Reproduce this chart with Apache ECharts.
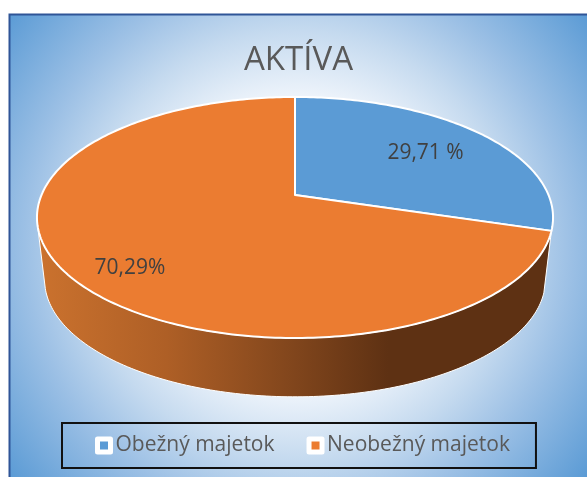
<!DOCTYPE html>
<html>
<head>
<meta charset="utf-8">
<style>
  html, body { margin: 0; padding: 0; background: #fff; }
  #main { width: 587px; height: 477px; }
</style>
<script src="https://cdn.jsdelivr.net/npm/echarts@6/dist/echarts.min.js"></script>
</head>
<body>
<div id="main"></div>
<script>
var categories = ["Obežný majetok", "Neobežný majetok"];
var values = [29.71, 70.29];
var labelTexts = ["29,71 %", "70,29%"];
var colors = ["#5B9BD5", "#EB7C31"];

// pie seen in perspective
var cx = 295;
var top3d = { y: 195, d: 253.5, a: 116.3 };
var bottom3d = { y: 258, d: 246, a: 112.9 };
var persp = -0.1867;
var leftEdge = 255;
var labelRadius = [0.69, 0.8];
var labelShift = [0, -6.5];

var font = '"Open Sans", sans-serif';

function project(plane, deg, k) {
  var t = (deg * Math.PI) / 180;
  var u = Math.sin(t) * k;
  var v = -Math.cos(t) * k;
  var w = 1 + persp * v;
  return [cx + (plane.d * u) / w, plane.y + (plane.a * v) / w];
}

function arc(plane, from, to) {
  var pts = [];
  var n = Math.ceil(Math.abs(to - from));
  for (var i = 0; i <= n; i++) {
    pts.push(project(plane, from + ((to - from) * i) / n, 1));
  }
  return pts;
}

function sliceAngles(index) {
  var total = values[0] + values[1];
  var start = 0;
  for (var i = 0; i < index; i++) start += (values[i] / total) * 360;
  return [start, start + (values[index] / total) * 360];
}

function renderSlice(params) {
  var i = params.seriesIndex;
  var a = sliceAngles(i);
  var children = [];
  if (i === 1) {
    // side wall, only the front part is visible
    var wall = arc(top3d, a[0], leftEdge).concat(arc(bottom3d, leftEdge, a[0]));
    children.push({
      type: "polygon",
      shape: { points: wall },
      style: {
        fill: new echarts.graphic.LinearGradient(38, 0, 553, 0, [
          { offset: 0, color: "#CB722E" },
          { offset: 0.25, color: "#AE5F26" },
          { offset: 0.5, color: "#80451C" },
          { offset: 0.68, color: "#5E3113" },
          { offset: 1, color: "#5E3113" },
        ], true),
        stroke: "#fff",
        lineWidth: 1,
      },
    });
  }
  var pts = [project(top3d, 0, 0)].concat(arc(top3d, a[0], a[1]));
  children.push({
    type: "polygon",
    shape: { points: pts },
    style: { fill: colors[i], stroke: "#fff", lineWidth: 2, lineJoin: "round" },
  });
  var p = project(top3d, (a[0] + a[1]) / 2 + labelShift[i], labelRadius[i]);
  children.push({
    type: "text",
    z2: 10,
    style: {
      x: p[0],
      y: p[1] + 2,
      text: labelTexts[i],
      font: "21px " + font,
      fill: "#404040",
      align: "center",
      verticalAlign: "middle",
    },
  });
  return { type: "group", children: children };
}

var myChart = echarts.init(document.getElementById("main"));
var option = {
  animation: false,
  title: {
    text: "AKTÍVA",
    left: 244,
    top: 44,
    padding: 0,
    textStyle: { color: "#595959", fontFamily: font, fontSize: 33, fontWeight: "normal" },
  },
  legend: {
    data: categories,
    left: 62,
    top: 423,
    padding: [12, 26, 12, 33],
    itemGap: 32,
    itemWidth: 13,
    itemHeight: 13,
    icon: "rect",
    borderColor: "#111",
    borderWidth: 2,
    itemStyle: { borderColor: "#fff", borderWidth: 5, borderJoin: "round" },
    textStyle: { color: "#595959", fontFamily: font, fontSize: 21, padding: 0 },
  },
  graphic: [
    {
      type: "rect",
      z: -1,
      shape: { x: 9.5, y: 14.5, width: 600, height: 500 },
      style: {
        fill: {
          type: "radial",
          x: 298,
          y: 245,
          r: 370,
          global: true,
          colorStops: [
            { offset: 0, color: "#FFFFFF" },
            { offset: 0.2, color: "#FBFDFE" },
            { offset: 0.4, color: "#EEF4FB" },
            { offset: 0.58, color: "#C5DAEF" },
            { offset: 0.74, color: "#9CC0E5" },
            { offset: 1, color: "#5B9BD5" },
          ],
        },
        stroke: "#2F5597",
        lineWidth: 2,
      },
    },
  ],
  series: categories.map(function (name, i) {
    return {
      type: "custom",
      name: name,
      coordinateSystem: "none",
      z: 2 + i,
      itemStyle: { color: colors[i] },
      renderItem: renderSlice,
      data: [[values[i]]],
    };
  }),
};
myChart.setOption(option);
</script>
</body>
</html>
